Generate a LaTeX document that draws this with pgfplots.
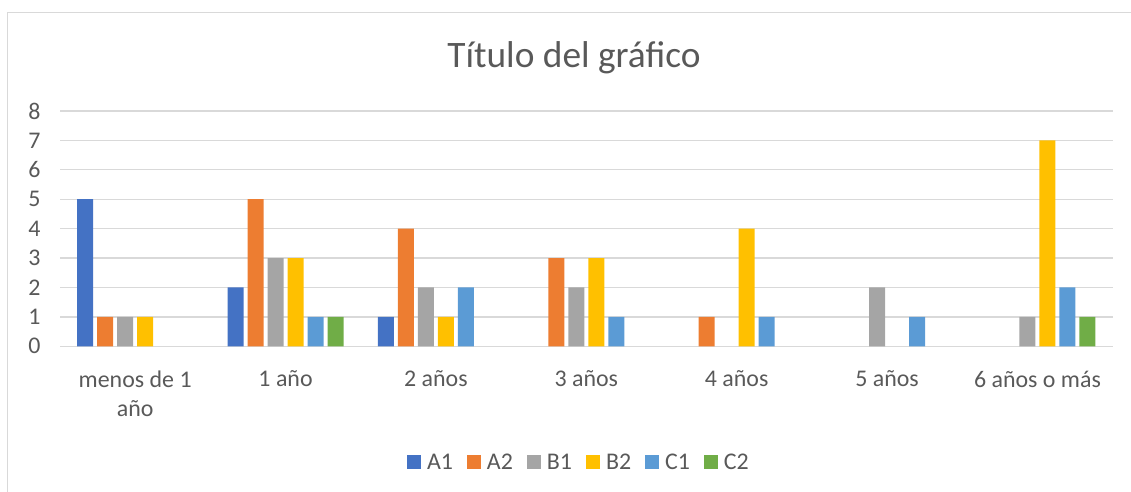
\documentclass[border=0pt]{standalone}
\usepackage{pgfplots}
\pgfplotsset{compat=1.18}
\usepackage{fontspec}
\setmainfont{Carlito}
\definecolor{cA1}{HTML}{4472C4}
\definecolor{cA2}{HTML}{ED7D31}
\definecolor{cB1}{HTML}{A5A5A5}
\definecolor{cB2}{HTML}{FFC000}
\definecolor{cC1}{HTML}{5B9BD5}
\definecolor{cC2}{HTML}{70AD47}
\definecolor{txt}{HTML}{595959}
\definecolor{grd}{HTML}{D9D9D9}
\begin{document}
\begin{tikzpicture}[x=1bp,y=1bp]
\path[use as bounding box] (0,0) rectangle (1131,492);
\draw[grd,line width=1.5bp] (7.5,0) -- (7.5,479.5) -- (1131,479.5);
\node[txt,font=\fontsize{37.5}{44}\selectfont] at (574,434) {Título del gráfico};
\begin{axis}[
  at={(60bp,145.7bp)}, anchor=south west,
  scale only axis, width=1052.7bp, height=235.3bp,
  ybar=4bp, bar width=16bp,
  xmin=-0.5, xmax=6.5, ymin=0, ymax=8,
  xtick={0,1,2,3,4,5,6},
  xticklabels={{menos de 1\\año},{1 año},{2 años},{3 años},{4 años},{5 años},{6 años o más}},
  ytick={0,1,2,3,4,5,6,7,8},
  ymajorgrids, grid style={grd,line width=1.3bp},
  axis line style={draw=none},
  major tick length=0pt,
  tick label style={txt,font=\fontsize{24}{29}\selectfont},
  /pgf/number format/assume math mode=true,
  xticklabel style={align=center,yshift=-21bp},
  yticklabel style={xshift=-16bp},
  legend style={at={(0.493,-0.492)},anchor=center,draw=none,legend columns=6,
    font=\fontsize{24}{26}\selectfont,text=txt,
    /tikz/every odd column/.append style={column sep=4bp},
    /tikz/every even column/.append style={column sep=12bp}},
  legend image code/.code={\fill[#1,draw=none] (0bp,-7bp) rectangle (14bp,7bp);},
  legend cell align=left,
]
\addplot[fill=cA1,draw=none] coordinates {(0,5) (1,2) (2,1)};
\addplot[fill=cA2,draw=none] coordinates {(0,1) (1,5) (2,4) (3,3) (4,1)};
\addplot[fill=cB1,draw=none] coordinates {(0,1) (1,3) (2,2) (3,2) (5,2) (6,1)};
\addplot[fill=cB2,draw=none] coordinates {(0,1) (1,3) (2,1) (3,3) (4,4) (6,7)};
\addplot[fill=cC1,draw=none] coordinates {(1,1) (2,2) (3,1) (4,1) (5,1) (6,2)};
\addplot[fill=cC2,draw=none] coordinates {(1,1) (6,1)};
\legend{A1,A2,B1,B2,C1,C2}
\end{axis}
\end{tikzpicture}
\end{document}
